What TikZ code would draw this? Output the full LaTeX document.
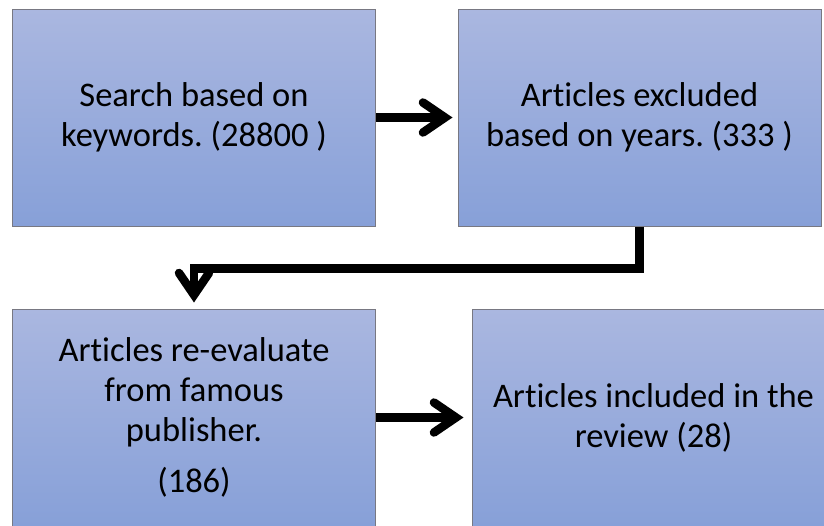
\documentclass[tikz,border=0pt]{standalone}
\usepackage{fontspec}
\setmainfont[RawFeature=-liga]{Carlito}
\usetikzlibrary{arrows.meta,calc,positioning}

\definecolor{boxtop}{RGB}{170,183,224}
\definecolor{boxbot}{RGB}{135,160,216}
\definecolor{boxline}{RGB}{120,120,130}

\tikzset{
  stagebox/.style={draw=boxline,line width=1pt,top color=boxtop,bottom color=boxbot,
    minimum width=363pt,minimum height=217pt,align=center,inner sep=0pt,
    font=\fontsize{34.5}{40}\selectfont},
  flowarrow/.style={line width=8.5pt,-{Straight Barb[length=22pt,width=30pt,line cap=round]}}
}

\begin{document}
\frenchspacing
\begin{tikzpicture}[x=1pt,y=-1pt]
    \useasboundingbox (0,0) rectangle (824,525);
    \node[stagebox] (search) at (194,117.5) {Search based on\\keywords. (28800 )};
    \node[stagebox] (years) at (639.5,117.5) {Articles excluded\\based on years. (333 )};
    \node[stagebox] (publisher) at (194,417.5) {Articles re-evaluate\\from famous\\publisher.\\[11pt](186)};
    \node[stagebox] (review) at (653.5,417.5) {Articles included in the\\review (28)};
    \draw[flowarrow,shorten >=5pt] (search) -- (years);
    \draw[flowarrow,shorten >=6pt] (years.south) -- ++(0,42) -| (publisher.north);
    \draw[flowarrow,shorten >=8pt] (publisher) -- (review);
  \end{tikzpicture}
\end{document}
